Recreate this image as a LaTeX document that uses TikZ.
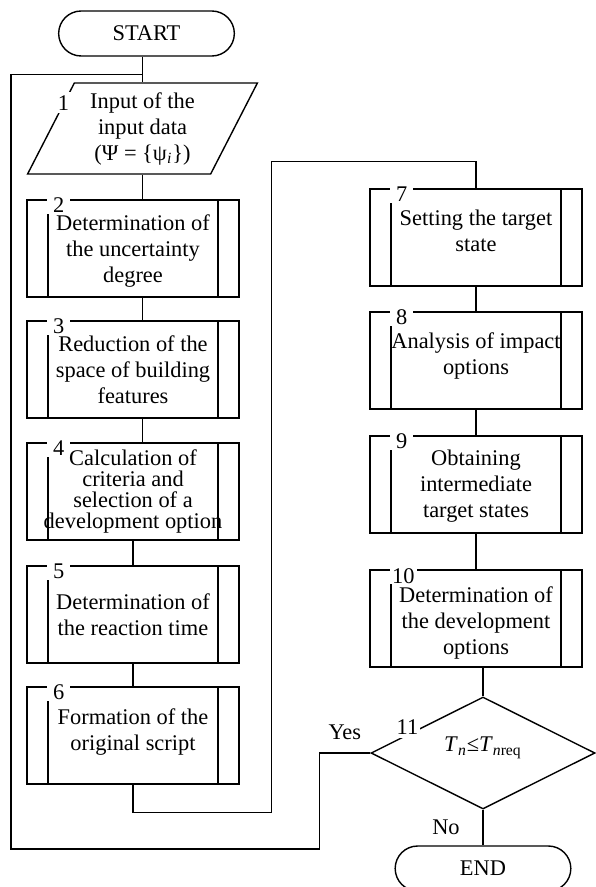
\documentclass[tikz,border=0pt]{standalone}
\usepackage{fontspec}
\setmainfont{Liberation Serif}
\usepackage{tikz}
\usetikzlibrary{shapes.geometric, shapes.misc, positioning, calc}
\tikzstyle{startstop} = [rounded rectangle, minimum width=94.5pt, minimum height=22.5pt, text centered, draw=black, line width=0.7pt]
\tikzstyle{io} = [trapezium, trapezium left angle=63.7, trapezium right angle=116.3, trapezium stretches=true, minimum width=115.5pt, minimum height=45.5pt, inner sep=0pt, align=center, draw=black, line width=0.7pt]
\tikzstyle{process} = [rectangle, minimum width=106pt, minimum height=48.5pt, inner sep=0pt, align=center, draw=black, line width=0.7pt,
    path picture={\draw[line width=0.7pt] ([xshift=10.5pt]path picture bounding box.north west) -- ([xshift=10.5pt]path picture bounding box.south west)
        ([xshift=-10.5pt]path picture bounding box.north east) -- ([xshift=-10.5pt]path picture bounding box.south east);}]
\tikzstyle{decision} = [diamond, aspect=2, minimum width=112pt, minimum height=56pt, inner sep=0pt, draw=black, line width=0.7pt]
\tikzstyle{numlabel} = [fill=white, inner xsep=3pt, inner ysep=0.5pt, anchor=north west]
\tikzstyle{line} = [draw, line width=0.7pt]
% struts to nudge the text of a box up or down
\newcommand{\padtop}[1]{\rule{0pt}{#1}}
\newcommand{\padbot}[1]{\rule[-#1]{0pt}{0pt}}

\begin{document}
\begin{tikzpicture}[x=0.5pt,y=-0.5pt,font=\fontsize{11.2pt}{13pt}\selectfont]
        \useasboundingbox (0,0) rectangle (595,887);

        \node[startstop] (start) at (146.5,33.5) {START};
        \node[io, below=12.8pt of start, xshift=-2pt] (input) {Input of the\\input data\\(Ψ = \{ψ\textsubscript{\textit{i}}\})};
        \node[process, below=12.3pt of input, xshift=-4.75pt] (b2) {\padtop{10.6pt}Determination of\\the uncertainty\\degree};
        \node[process, below=11.3pt of b2] (b3) {Reduction of the\\space of building\\features};
        \node[process, below=11.8pt of b3, font=\fontsize{11.2pt}{10.4pt}\selectfont] (b4) {Calculation of\\criteria and\\selection of a\\development option};
        \node[process, below=12.3pt of b4] (b5) {Determination of\\the reaction time};
        \node[process, below=11.3pt of b5] (b6) {Formation of the\\original script\padbot{6.4pt}};

        \node[process] (b7) at (476,237.5) {Setting the target\\state\padbot{7pt}};
        \node[process, below=12.3pt of b7] (b8) {Analysis of impact\\options\padbot{6.4pt}};
        \node[process, below=12.8pt of b8] (b9) {\padtop{9.6pt}Obtaining\\intermediate\\target states};
        \node[process, below=17.8pt of b9] (b10) {\padtop{12.6pt}Determination of\\the development\\options};
        \node[decision, below=14.3pt of b10, xshift=3.5pt] (dec) {\textit{T}\textsubscript{\textit{n}}≤\textit{T}\textsubscript{\textit{n}req}\padbot{8.5pt}};
        \node[startstop, below=17.8pt of dec] (end) {END};

        \coordinate (join) at ([yshift=4pt]input.north);
        \coordinate (turnA) at ([yshift=-14pt]b6.south);
        \coordinate (turnB) at ([yshift=13.5pt]b7.north);
        \coordinate (mid) at (271.5,0);
        \coordinate (back) at (11,849);

        \draw[line] (start.south -| input.north) -- (input.north);
        \draw[line] (input.south) -- (input.south |- b2.north);
        \draw[line] (input.south |- b2.south) -- (input.south |- b3.north);
        \draw[line] (input.south |- b3.south) -- (input.south |- b4.north);
        \draw[line] (b4) -- (b5);
        \draw[line] (b5) -- (b6);
        \draw[line] (b6.south) -- (turnA) -- (turnA -| mid) -- (turnB -| mid) -- (turnB) -- (b7.north);
        \draw[line] (b7) -- (b8);
        \draw[line] (b8) -- (b9);
        \draw[line] (b9) -- (b10);
        \draw[line] (dec.north) -- (dec.north |- b10.south);
        \draw[line] (dec.south) -- node[left=8pt] (no) {No} (end.north);
        \draw[line] (dec.west) -- node[above=3pt] (yes) {Yes} ++(-25.5pt,0) |- (back) |- (join);

        \node[numlabel, anchor=center, inner ysep=1.5pt] (n1) at ($(input.bottom left corner)!0.78!(input.top left corner)$) {1};
        \node[numlabel] (n2) at ([xshift=10.2pt,yshift=1.3pt]b2.north west) {2};
        \node[numlabel] (n3) at ([xshift=10.2pt,yshift=1.3pt]b3.north west) {3};
        \node[numlabel] (n4) at ([xshift=10.2pt,yshift=1.3pt]b4.north west) {4};
        \node[numlabel] (n5) at ([xshift=10.2pt,yshift=1.3pt]b5.north west) {5};
        \node[numlabel] (n6) at ([xshift=10.2pt,yshift=1.3pt]b6.north west) {6};
        \node[numlabel] (n7) at ([xshift=10.2pt,yshift=1.3pt]b7.north west) {7};
        \node[numlabel] (n8) at ([xshift=10.2pt,yshift=1.3pt]b8.north west) {8};
        \node[numlabel] (n9) at ([xshift=10.2pt,yshift=1.3pt]b9.north west) {9};
        \node[numlabel, inner xsep=1pt] (n10) at ([xshift=10.2pt,yshift=1.3pt]b10.north west) {10};
        \node[numlabel, anchor=center, inner xsep=1pt, inner ysep=1.5pt] (n11) at ($(dec.west)!0.33!(dec.north)+(0,3.5pt)$) {11};
    \end{tikzpicture}
\end{document}
